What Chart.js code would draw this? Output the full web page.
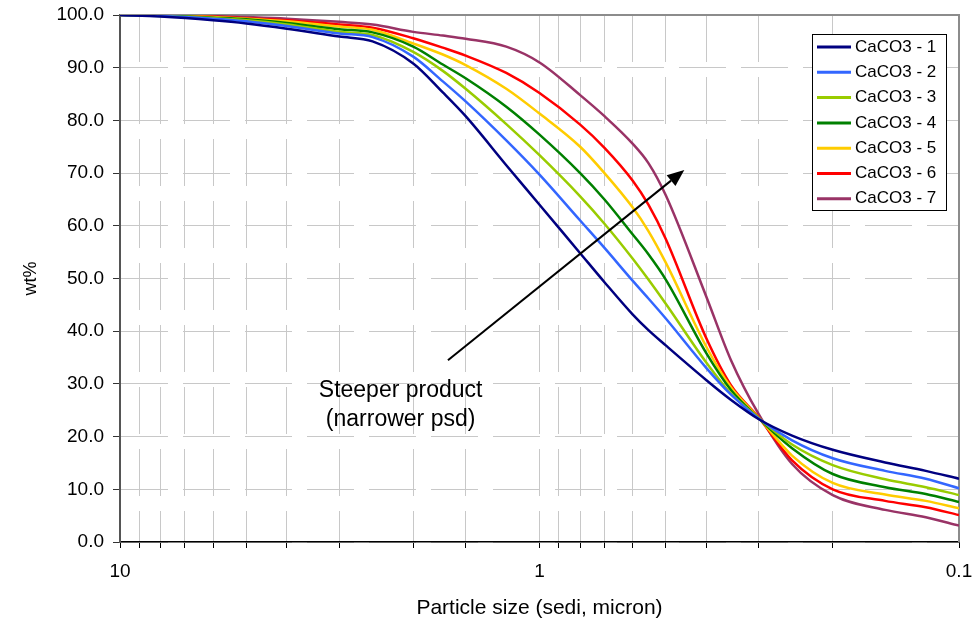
<!DOCTYPE html>
<html>
<head>
<meta charset="utf-8">
<script src="https://cdn.jsdelivr.net/npm/chart.js@4/dist/chart.umd.min.js"></script>
<style>
html,body{margin:0;padding:0;background:#fff;}
#wrap{width:973px;height:621px;}
</style>
</head>
<body>
<div id="wrap"><canvas id="psdChart" width="973" height="621"></canvas></div>
<script>
// particle size distribution, CaCO3 grades

// particle size (sedi, micron), coarse to fine
const sizes = [10, 8, 6, 5, 4, 3, 2.5, 2, 1.7, 1.5, 1.2, 1, 0.8, 0.7, 0.6, 0.55, 0.5, 0.4, 0.35, 0.3, 0.25, 0.2, 0.15, 0.12, 0.1];

// cumulative wt% finer than size
const caco3_1 = [100, 99.7, 99.0, 98.4, 97.4, 95.9, 95.0, 90.8, 85.3, 80.8, 71.5, 64.0, 54.8, 49.3, 43.2, 40.2, 37.3, 30.7, 27.0, 23.3, 20.2, 17.5, 15.1, 13.5, 12.0];
const caco3_2 = [100, 99.8, 99.3, 98.8, 97.9, 96.5, 95.8, 92.1, 87.4, 83.6, 76.2, 69.7, 61.0, 55.8, 49.6, 46.2, 42.4, 33.0, 28.0, 23.4, 19.3, 15.9, 13.5, 12.0, 10.2];
const caco3_3 = [100, 99.8, 99.4, 99.0, 98.2, 96.8, 96.2, 93.0, 89.4, 86.0, 79.3, 73.4, 65.6, 60.4, 53.8, 49.8, 45.2, 34.0, 28.2, 23.5, 18.5, 14.6, 11.9, 10.4, 8.9];
const caco3_4 = [100, 99.9, 99.5, 99.2, 98.5, 97.3, 96.7, 94.0, 90.6, 88.0, 82.6, 77.3, 70.0, 65.0, 58.4, 54.6, 49.8, 35.8, 28.9, 23.45, 17.8, 12.9, 10.4, 9.1, 7.6];
const caco3_5 = [100, 99.9, 99.6, 99.3, 98.8, 97.8, 97.2, 94.6, 92.5, 90.5, 86.0, 81.3, 75.0, 70.0, 63.5, 59.0, 53.0, 37.0, 29.4, 23.55, 16.4, 11.2, 9.0, 7.8, 6.4];
const caco3_6 = [100, 99.9, 99.7, 99.4, 99.0, 98.2, 97.6, 95.6, 93.8, 92.3, 89.0, 85.2, 79.2, 74.8, 68.6, 64.0, 57.5, 38.6, 29.8, 23.6, 15.5, 10.0, 7.8, 6.6, 5.1];
const caco3_7 = [100, 99.9, 99.8, 99.6, 99.3, 98.7, 98.2, 96.8, 96.1, 95.5, 94.0, 91.0, 84.8, 80.8, 75.6, 71.9, 65.8, 46.5, 34.6, 24.2, 14.8, 8.9, 6.1, 4.7, 3.1];

const seriesNames = ["CaCO3 - 1", "CaCO3 - 2", "CaCO3 - 3", "CaCO3 - 4", "CaCO3 - 5", "CaCO3 - 6", "CaCO3 - 7"];
const seriesValues = [caco3_1, caco3_2, caco3_3, caco3_4, caco3_5, caco3_6, caco3_7];
const xTickLabels = [10, 1, 0.1];

const colors = ["#000080", "#3366FF", "#99CC00", "#008000", "#FFCC00", "#FF0000", "#993366"];

const FONT = "'Liberation Sans', Arial, sans-serif";

let datasets = seriesNames.map((name, i) => ({
  label: name,
  data: sizes.map((s, j) => ({x: s, y: seriesValues[i][j]})),
  borderColor: colors[i],
  backgroundColor: colors[i],
  borderWidth: 2.5,
  pointRadius: 0,
  cubicInterpolationMode: "monotone",
  fill: false
}));


// arrow + note, in data units
const arrowFrom = {x: 1.653, y: 34.5};
const arrowTo = {x: 0.4517, y: 70.6};
const noteAt = {x: 2.143, y: 28.8};


const extras = {
  id: "extras",

  beforeDatasetsDraw(chart){
    let a = chart.chartArea;
    let ctx = chart.ctx;
    ctx.save();
    ctx.strokeStyle = "#8c8c8c";
    ctx.lineWidth = 2;
    ctx.beginPath();
    ctx.moveTo(a.left, a.top);
    ctx.lineTo(a.right, a.top);
    ctx.lineTo(a.right, a.bottom);
    ctx.stroke();
    ctx.restore();
  },

  afterDraw(chart){
    let ctx = chart.ctx;
    let xs = chart.scales.x;
    let ys = chart.scales.y;

    // arrow
    let x1 = xs.getPixelForValue(arrowFrom.x), y1 = ys.getPixelForValue(arrowFrom.y);
    let x2 = xs.getPixelForValue(arrowTo.x), y2 = ys.getPixelForValue(arrowTo.y);
    let ang = Math.atan2(y2 - y1, x2 - x1);
    let headLen = 17, headW = 7;
    ctx.save();
    ctx.strokeStyle = "#000";
    ctx.fillStyle = "#000";
    ctx.lineWidth = 2;
    ctx.beginPath();
    ctx.moveTo(x1, y1);
    ctx.lineTo(x2 - Math.cos(ang) * headLen, y2 - Math.sin(ang) * headLen);
    ctx.stroke();
    ctx.beginPath();
    ctx.moveTo(x2, y2);
    ctx.lineTo(x2 - Math.cos(ang) * headLen - Math.sin(ang) * headW, y2 - Math.sin(ang) * headLen + Math.cos(ang) * headW);
    ctx.lineTo(x2 - Math.cos(ang) * headLen + Math.sin(ang) * headW, y2 - Math.sin(ang) * headLen - Math.cos(ang) * headW);
    ctx.closePath();
    ctx.fill();

    // note
    let tx = xs.getPixelForValue(noteAt.x), ty = ys.getPixelForValue(noteAt.y);
    ctx.font = "23px " + FONT;
    ctx.textAlign = "center";
    ctx.textBaseline = "middle";
    ctx.fillText("Steeper product", tx, ty);
    ctx.fillText("(narrower psd)", tx, ty + 29);
    ctx.restore();

    // legend box
    let lx = 812, ly = 34, lw = 134, lh = 176;
    ctx.save();
    ctx.fillStyle = "#fff";
    ctx.fillRect(lx, ly, lw, lh);
    ctx.strokeStyle = "#000";
    ctx.lineWidth = 1;
    ctx.strokeRect(lx + 0.5, ly + 0.5, lw, lh);
    ctx.font = "17px " + FONT;
    ctx.textAlign = "left";
    ctx.textBaseline = "middle";
    chart.data.datasets.forEach((d, i) => {
      let yy = 47 + i * 25.3;
      ctx.strokeStyle = d.borderColor;
      ctx.lineWidth = 3;
      ctx.beginPath();
      ctx.moveTo(817, yy);
      ctx.lineTo(851, yy);
      ctx.stroke();
      ctx.fillStyle = "#000";
      ctx.fillText(d.label, 855, yy);
    });
    ctx.restore();
  }
};


new Chart(document.getElementById("psdChart"), {
  type: "line",
  data: {datasets: datasets},
  options: {
    responsive: false,
    animation: false,
    devicePixelRatio: 1,
    layout: {padding: {top: 15, right: 14, left: 0, bottom: 0}},
    plugins: {
      legend: {display: false},
      tooltip: {enabled: false}
    },
    scales: {
      x: {
        type: "logarithmic",
        reverse: true,
        min: 0.1,
        max: 10,
        ticks: {
          autoSkip: false,
          maxRotation: 0,
          color: "#000",
          font: {family: FONT, size: 19},
          padding: 12,
          callback: function(v){
            let hit = xTickLabels.find(t => Math.abs(t - v) < 1e-9);
            return hit === undefined ? "" : String(hit);
          }
        },
        grid: {color: "#c8c8c8", lineWidth: 1, tickLength: 6, tickColor: "#000"},
        border: {color: "#000", width: 1.5, dash: [47, 15]},
        title: {
          display: true,
          text: "Particle size (sedi, micron)",
          color: "#000",
          font: {family: FONT, size: 21},
          padding: {top: 0, bottom: 0}
        },
        afterFit(s){
          s.height = 79;
          s.paddingLeft = 0;
          s.paddingRight = 0;
        }
      },
      y: {
        min: 0,
        max: 100,
        ticks: {
          stepSize: 10,
          color: "#000",
          font: {family: FONT, size: 19},
          padding: 9,
          callback: v => Number(v).toFixed(1)
        },
        grid: {color: "#c8c8c8", lineWidth: 1, tickLength: 7, tickColor: "#333"},
        border: {color: "#555", width: 2, dash: [47, 15]},
        title: {
          display: true,
          text: "wt%",
          color: "#000",
          font: {family: FONT, size: 18},
          padding: {top: 20, bottom: 0}
        },
        afterFit(s){
          s.width = 120;
          s.paddingTop = 0;
          s.paddingBottom = 0;
        }
      }
    }
  },
  plugins: [extras]
});
</script>
</body>
</html>
